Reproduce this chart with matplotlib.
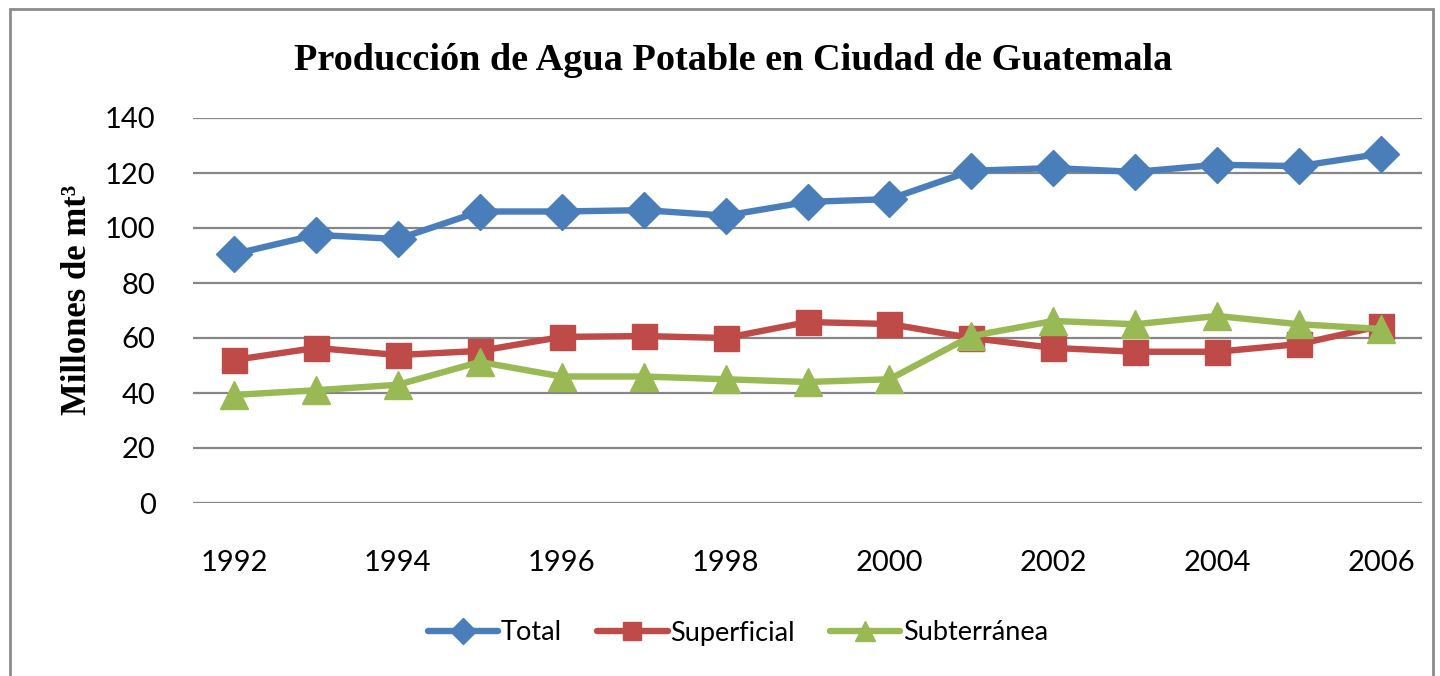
import matplotlib
matplotlib.use("Agg")
import matplotlib.pyplot as plt
from matplotlib.patches import Rectangle

years = [1992, 1993, 1994, 1995, 1996, 1997, 1998, 1999, 2000, 2001, 2002, 2003, 2004, 2005, 2006]
total = [90.5, 97.5, 96.0, 106.0, 106.0, 106.5, 104.5, 109.5, 110.5, 120.8, 121.8, 120.4, 123.0, 122.5, 127.0]
superficial = [52.0, 56.4, 53.8, 55.3, 60.4, 60.7, 60.0, 65.8, 65.1, 60.0, 56.4, 55.0, 55.0, 57.8, 64.4]
subterranea = [39.3, 41.0, 43.0, 51.3, 46.0, 46.0, 45.0, 44.0, 45.0, 60.7, 66.2, 65.0, 68.0, 65.0, 63.3]
y_ticks = [0, 20, 40, 60, 80, 100, 120, 140]

fig = plt.figure(figsize=(14.4, 6.76), dpi=100)
fig.patch.set_facecolor("white")

# outer frame
fig.patches.append(Rectangle((10 / 1440, -0.05), 1423 / 1440, 1.05 - 9 / 676,
                             transform=fig.transFigure, fill=False,
                             edgecolor="#8c8c8c", linewidth=2))

ax = fig.add_axes([193 / 1440, 1 - 503 / 676, 1229 / 1440, 385 / 676])
x = list(range(len(years)))

ax.plot(x, total, color="#4A7EBB", lw=4.6, marker="D", ms=18, label="Total",
        solid_capstyle="round", zorder=3)
ax.plot(x, superficial, color="#BE4B48", lw=4.6, marker="s", ms=18, label="Superficial",
        solid_capstyle="round", zorder=3)
ax.plot(x, subterranea, color="#98B954", lw=4.6, marker="^", ms=20, label="Subterránea",
        solid_capstyle="round", zorder=4)

ax.set_xlim(-0.5, len(years) - 0.5)
ax.set_ylim(0, 140)
ax.set_yticks(y_ticks)
ax.set_xticks(x[::2])
ax.set_xticklabels([str(y) for y in years[::2]])
ax.grid(axis="y", color="#868686", lw=1.6)
ax.set_axisbelow(True)
for s in ax.spines.values():
    s.set_visible(False)
ax.tick_params(length=0, labelsize=21)
ax.tick_params(axis="y", pad=27)
ax.tick_params(axis="x", pad=34)
for lab in ax.get_xticklabels() + ax.get_yticklabels():
    lab.set_fontfamily("Lato")

fig.text(733 / 1440, 1 - 60 / 676, "Producción de Agua Potable en Ciudad de Guatemala",
         ha="center", va="center", family="Liberation Serif", weight="bold", fontsize=27.5)
fig.text(78 / 1440, 1 - 300 / 676, "Millones de mt³", rotation=90, ha="center", va="center",
         family="Liberation Serif", weight="bold", fontsize=25)

leg = fig.legend(loc="center", bbox_to_anchor=(738 / 1440, 1 - 633 / 676), ncol=3,
                 frameon=False, prop={"family": "Lato", "size": 19.5},
                 handlelength=2.6, columnspacing=1.3, handletextpad=0.1, markerscale=0.75)

fig.savefig("out.png", dpi=100)
